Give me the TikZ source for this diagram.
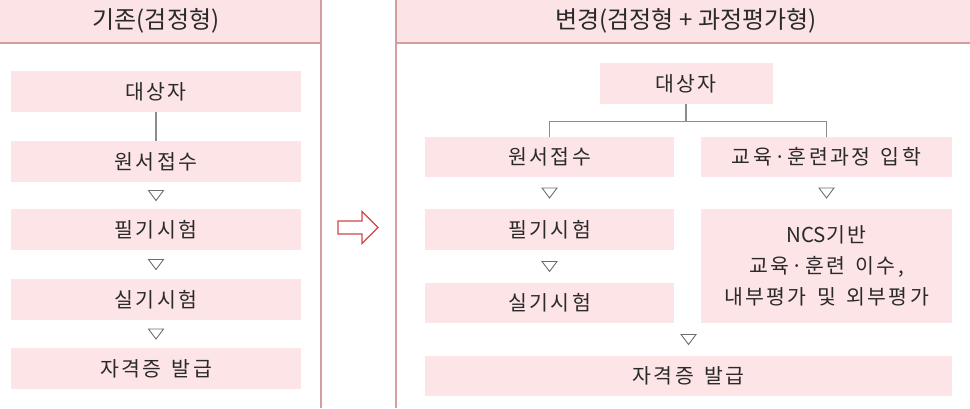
\documentclass[tikz,border=0pt]{standalone}
\usepackage{fontspec}
\setmainfont{Noto Sans CJK KR}
\newfontfamily\boxfont[LetterSpace=12]{Noto Sans CJK KR}
\newfontfamily\latfont{Noto Sans CJK KR}
\usetikzlibrary{calc}
\definecolor{boxpink}{RGB}{253,228,230}
\definecolor{hdrpink}{RGB}{252,227,229}
\definecolor{panelline}{RGB}{212,158,160}
\definecolor{conngray}{RGB}{140,140,140}
\definecolor{tricol}{RGB}{110,110,110}
\definecolor{txt}{RGB}{42,42,42}
\definecolor{arrowred}{RGB}{210,70,72}
\newcommand\wsp{\hspace{0.5em}}
\newcommand\mdot{\hspace{0.1em}·\hspace{0.1em}}
\begin{document}
\begin{tikzpicture}[x=1pt,y=-1pt,
  stepbox/.style={fill=boxpink, text=txt, inner sep=0pt, align=center,
    font=\boxfont\fontsize{20.5}{31}\selectfont},
  hdrtext/.style={text=txt, inner sep=0pt, font=\fontsize{24}{28}\selectfont},
  panel/.style={draw=panelline, line width=1.2pt},
  conn/.style={draw=conngray, line width=1.1pt},
  tri/.pic={\draw[tricol, line width=0.9pt, line join=miter] (-7.5,-5) -- (7.5,-5) -- (0,5) -- cycle;}
]
\useasboundingbox (0,0) rectangle (970,408);
% panels
\fill[hdrpink] (0,0) rectangle (321,43);
\fill[hdrpink] (396,0) rectangle (970,43);
\draw[panel] (0,43) -- (321,43);
\draw[panel] (321,0) -- (321,408);
\draw[panel] (396,43) -- (970,43);
\draw[panel] (396,0) -- (396,408);
\node[hdrtext] (hl) at (156,21) {기존(검정형)};
\node[hdrtext] (hr) at (686,21) {변경(검정형 + 과정평가형)};
% left flow
\node[stepbox, minimum width=290, minimum height=41] (l1) at (156,91.5) {대상자};
\node[stepbox, minimum width=290, minimum height=41] (l2) at (156,161.5) {원서접수};
\node[stepbox, minimum width=290, minimum height=41] (l3) at (156,229.5) {필기시험};
\node[stepbox, minimum width=290, minimum height=41] (l4) at (156,299.5) {실기시험};
\node[stepbox, minimum width=290, minimum height=41] (l5) at (156,368.5) {자격증\wsp 발급};
\draw[conn] (l1.south) -- (l2.north);
\pic at ($(l2.south)!0.5!(l3.north)$) {tri};
\pic at ($(l3.south)!0.5!(l4.north)$) {tri};
\pic at ($(l4.south)!0.5!(l5.north)$) {tri};
% middle arrow
\draw[arrowred, fill=white, line width=1.4pt, line join=miter]
  (338,221) -- (362,221) -- (362,211.5) -- (378,227.5) -- (362,243.5) -- (362,234) -- (338,234) -- cycle;
% right flow
\node[stepbox, minimum width=173, minimum height=41] (r0) at (686,83.5) {대상자};
\node[stepbox, minimum width=249, minimum height=40] (r1) at (549.5,157) {원서접수};
\node[stepbox, minimum width=251, minimum height=40] (e1) at (826.5,157) {교육\mdot 훈련과정\wsp 입학};
\node[stepbox, minimum width=249, minimum height=41] (r2) at (549.5,229.5) {필기시험};
\node[stepbox, minimum width=249, minimum height=40] (r3) at (549.5,303) {실기시험};
\node[stepbox, minimum width=251, minimum height=114] (e2) at (826.5,266) {{\latfont NCS}기반\\교육\mdot 훈련\wsp 이수,\\내부평가\wsp 및\wsp 외부평가};
\node[stepbox, minimum width=527, minimum height=40] (r4) at (688.5,376) {자격증\wsp 발급};
\coordinate (split) at ($(r0.south)+(0,17)$);
\draw[conn] (r0.south) -- (split);
\draw[conn] (split) -| (r1.north);
\draw[conn] (split) -| (e1.north);
\pic at ($(r1.south)!0.5!(r2.north)$) {tri};
\pic at ($(e1.south)!0.5!(e2.north)$) {tri};
\pic at ($(r2.south)!0.5!(r3.north)$) {tri};
\pic at ($(r3.south -| r4.north)!0.5!(r4.north)$) {tri};
\end{tikzpicture}
\end{document}
